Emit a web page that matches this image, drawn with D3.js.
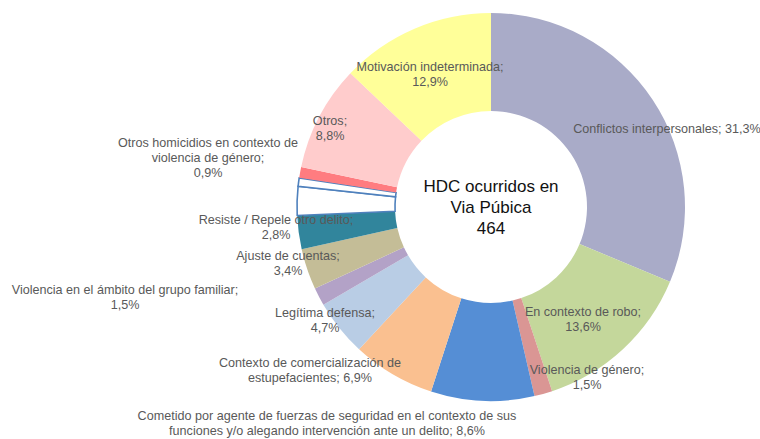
<!DOCTYPE html>
<html lang="es">
<head>
  <meta charset="UTF-8">
  <title>HDC ocurridos en Via Púbica</title>
  <style>
    * { margin: 0; padding: 0; box-sizing: border-box; }
    body { background: #fff; }
    #chart { width: 760px; height: 439px; }
    .lbl { font-family: "Liberation Sans", Arial, sans-serif; font-size: 12.6px; fill: #595959; }
    .center { font-family: "Liberation Sans", Arial, sans-serif; font-size: 17px; fill: #111; }
  </style>
</head>
<body>
  <div id="chart"></div>

  <script src="https://d3js.org/d3.v7.min.js"></script>
  <script>
  // slices, clockwise from 12 o'clock
  var categories = [
    "Conflictos interpersonales",
    "En contexto de robo",
    "Violencia de género",
    "Cometido por agente de fuerzas de seguridad",
    "Contexto de comercialización de estupefacientes",
    "Legítima defensa",
    "Violencia en el ámbito del grupo familiar",
    "Ajuste de cuentas",
    "Resiste / Repele otro delito",
    "(sin dato 1)",
    "(sin dato 2)",
    "Otros homicidios en contexto de violencia de género",
    "Otros",
    "Motivación indeterminada"
  ];
  var values = [31.3, 13.6, 1.5, 8.6, 6.9, 4.7, 1.5, 3.4, 2.8, 2.4, 0.7, 0.9, 8.8, 12.9];
  var labelTexts = [
    "Conflictos interpersonales; 31,3%",
    "En contexto de robo;\n13,6%",
    "Violencia de género;\n1,5%",
    "Cometido por agente de fuerzas de seguridad en el contexto de sus\nfunciones y/o alegando intervención ante un delito; 8,6%",
    "Contexto de comercialización de\nestupefacientes; 6,9%",
    "Legítima defensa;\n4,7%",
    "Violencia en el ámbito del grupo familiar;\n1,5%",
    "Ajuste de cuentas;\n3,4%",
    "Resiste / Repele otro delito;\n2,8%",
    "",
    "",
    "Otros homicidios en contexto de\nviolencia de género;\n0,9%",
    "Otros;\n8,8%",
    "Motivación indeterminada;\n12,9%"
  ];
  var colors = ["#a9abc8", "#c4d79b", "#da9694", "#558ed5", "#fac090", "#b9cde5",
                "#b3a2c7", "#c4bd97", "#31859c", "#ffffff", "#ffffff", "#ff7c80", "#ffcccc", "#ffff99"];
  var centerLines = ["HDC ocurridos en", "Via Púbica", "464"];

  // label placement (center x, first baseline y)
  var labelPos = [
    [667, 133], [583, 316], [587, 374], [327, 420], [310, 367], [325, 317], [125, 294],
    [288, 260], [276, 224], [0, 0], [0, 0], [208, 147], [330, 125], [430, 71]
  ];

  var W = 760, H = 439;
  var cx = 491, cy = 207, outerR = 194, innerR = 96;
  var lineH = 15;

  var svg = d3.select("#chart").append("svg")
    .attr("width", W).attr("height", H);

  var g = svg.append("g").attr("transform", "translate(" + cx + "," + cy + ")");

  var pie = d3.pie().sort(null).value(function(d) { return d; });
  var arc = d3.arc().innerRadius(innerR).outerRadius(outerR);

  g.selectAll("path.slice")
    .data(pie(values))
    .enter()
    .append("path")
      .attr("class", "slice")
      .attr("d", arc)
      .attr("fill", function(d, i) { return colors[i]; })
      .attr("stroke", function(d, i) { return colors[i] === "#ffffff" ? "#4f81bd" : "none"; })
      .attr("stroke-width", 1.6);

  // center text
  svg.append("text")
    .attr("class", "center")
    .attr("text-anchor", "middle")
    .selectAll("tspan")
    .data(centerLines)
    .enter()
    .append("tspan")
      .attr("x", cx)
      .attr("y", function(d, i) { return 192 + i * 21; })
      .text(function(d) { return d; });

  // slice labels
  labelTexts.forEach(function(t, i) {
    if (!t) return;
    var txt = svg.append("text")
      .attr("class", "lbl")
      .attr("text-anchor", "middle");
    t.split("\n").forEach(function(line, k) {
      txt.append("tspan")
        .attr("x", labelPos[i][0])
        .attr("y", labelPos[i][1] + k * lineH)
        .text(line);
    });
  });
  </script>
</body>
</html>
